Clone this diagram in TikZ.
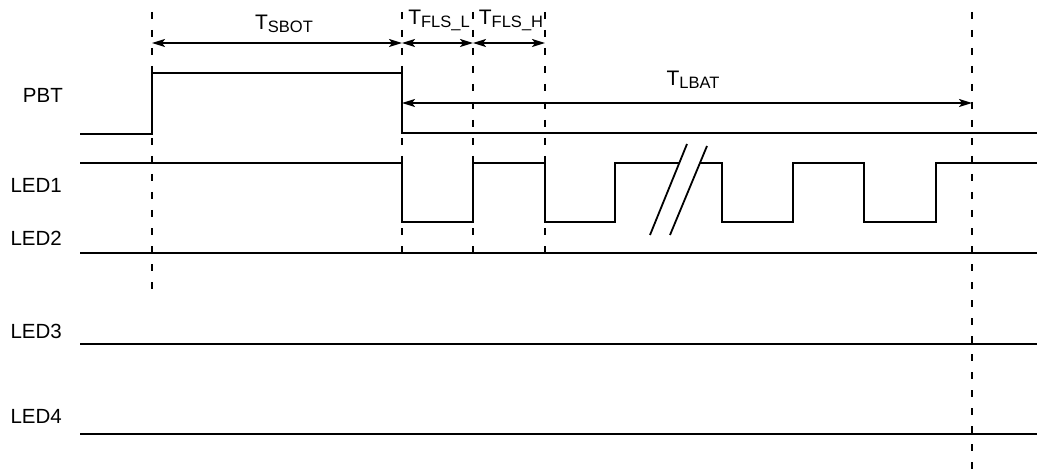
\documentclass[tikz,border=0pt]{standalone}
\usepackage{fontspec}
\setmainfont{Liberation Sans}
\usetikzlibrary{arrows.meta}
\newcommand\Tlab[1]{T\raisebox{-3pt}{\fontsize{16.5}{16.5}\selectfont #1}}
\begin{document}
\begin{tikzpicture}[x=1pt,y=-1pt,
  sig/.style={line width=1.8pt, line join=miter},
  guide/.style={line width=2pt, dash pattern=on 7pt off 11pt},
  dim/.style={line width=1.8pt,
    {Stealth[length=13pt,width=8pt,inset=3pt]}-{Stealth[length=13pt,width=8pt,inset=3pt]}},
  lab/.style={font=\fontsize{20.5}{24}\selectfont, anchor=base east, inner sep=0pt},
  tlab/.style={font=\fontsize{21}{24}\selectfont, anchor=base, inner sep=0pt}]
\useasboundingbox (0,0) rectangle (1037,476);

% guide coordinates
\coordinate (g1t) at (152,12); \coordinate (g1b) at (152,289);
\coordinate (g2t) at (402,12); \coordinate (g2b) at (402,254);
\coordinate (g3t) at (473,12); \coordinate (g3b) at (473,254);
\coordinate (g4t) at (545,12); \coordinate (g4b) at (545,254);
\coordinate (g5t) at (972,12); \coordinate (g5b) at (972,476);

\draw[guide] (g1t) -- (g1b);
\draw[guide] (g2t) -- (g2b);
\draw[guide] (g3t) -- (g3b);
\draw[guide] (g4t) -- (g4b);
\draw[guide] (g5t) -- (g5b);

% labels
\node[lab] (pbt) at (63,103) {PBT};
\node[lab] (led1) at (62,193) {LED1};
\node[lab] (led2) at (62,245) {LED2};
\node[lab] (led3) at (62,338) {LED3};
\node[lab] (led4) at (62,423) {LED4};

% waveforms
\draw[sig] (80,134) -- (152,134) -- (152,73) -- (402,73) -- (402,133) -- (1037,133);
\draw[sig] (80,163) -- (402,163) -- (402,222) -- (473,222) -- (473,163) -- (545,163)
  -- (545,222) -- (615,222) -- (615,163) -- (679,163);
\draw[sig] (700,163) -- (722,163) -- (722,222) -- (793,222) -- (793,163) -- (864,163)
  -- (864,222) -- (936,222) -- (936,163) -- (1037,163);
\draw[sig] (650,235) -- (687,144);
\draw[sig] (670,235) -- (707,146);
\draw[sig] (80,253) -- (1037,253);
\draw[sig] (80,344) -- (1037,344);
\draw[sig] (80,434) -- (1037,434);

% dimension arrows
\coordinate (d1) at (152,43); \coordinate (d2) at (402,43);
\coordinate (d3) at (473,43); \coordinate (d4) at (545,43);
\coordinate (e1) at (402,103); \coordinate (e2) at (972,103);
\draw[dim] (d1) -- (d2);
\draw[dim] (d2) -- (d3);
\draw[dim] (d3) -- (d4);
\draw[dim] (e1) -- (e2);

\node[tlab] (tsbot) at (284,30) {\Tlab{SBOT}};
\node[tlab] (tflsl) at (439,25) {\Tlab{FLS\_L}};
\node[tlab] (tflsh) at (511,25) {\Tlab{FLS\_H}};
\node[tlab] (tlbat) at (693,86) {\Tlab{LBAT}};
\end{tikzpicture}
\end{document}
